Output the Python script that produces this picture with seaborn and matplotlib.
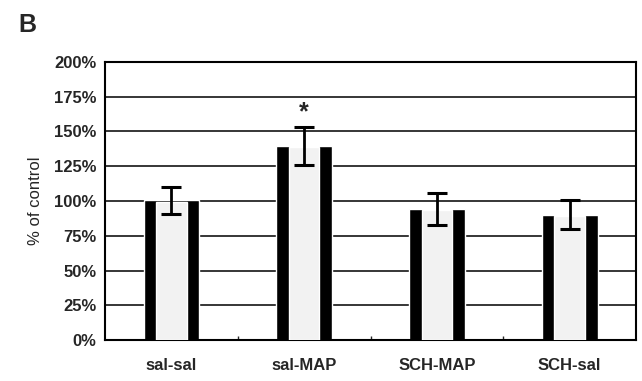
import numpy as np
import pandas as pd
import matplotlib.pyplot as plt
import seaborn as sns
from matplotlib.ticker import PercentFormatter, FixedLocator

groups = ['sal-sal', 'sal-MAP', 'SCH-MAP', 'SCH-sal']
means = [100.5, 139.5, 94.5, 90]
errs = [9.5, 13.5, 11.5, 10.5]
stars = ['', '*', '', '']

df = pd.DataFrame({'group': groups, 'pct': means})

sns.set_style('white')
plt.rcParams['font.family'] = ['Liberation Sans', 'DejaVu Sans']

fig = plt.figure(figsize=(6.42, 3.81), dpi=100)
ax = fig.add_axes([0.1636, 0.1076, 0.8271, 0.7297])

# outer black bar, then lighter inner bar on top
sns.barplot(data=df, x='group', y='pct', color='black', width=0.42,
            saturation=1, ax=ax, zorder=2)
sns.barplot(data=df, x='group', y='pct', color='#f2f2f2', width=0.23,
            saturation=1, ax=ax, zorder=3)
# trim inner bars slightly below the top so a thin black edge shows
for p in ax.patches[len(groups):]:
    p.set_height(p.get_height() - 1.0)

x = np.arange(len(groups))
ax.errorbar(x, means, yerr=errs, fmt='none', ecolor='black', elinewidth=2,
            capsize=7, capthick=2.2, zorder=4)
for xi, m, e, s in zip(x, means, errs, stars):
    if s:
        ax.text(xi, m + e + 2, s, ha='center', va='bottom', fontsize=18,
                fontweight='bold')

ax.set_ylim(0, 200)
ax.set_xlim(-0.5, len(groups) - 0.5)
ax.set_yticks(np.arange(0, 201, 25))
ax.yaxis.set_major_formatter(PercentFormatter(decimals=0))
ax.grid(axis='y', color='black', linewidth=1.1, zorder=0)
ax.set_axisbelow(True)
ax.xaxis.set_minor_locator(FixedLocator([0.5, 1.5, 2.5]))
ax.tick_params(axis='x', which='minor', direction='in', length=3, width=1, bottom=True)
ax.tick_params(axis='x', which='major', length=0, pad=13)
ax.tick_params(axis='y', length=0, pad=6)
for side in ax.spines.values():
    side.set_color('black')
    side.set_linewidth(1.5)

ax.set_xlabel('')
ax.set_ylabel('% of control', fontsize=12, labelpad=8)
for lab in ax.get_xticklabels() + ax.get_yticklabels():
    lab.set_fontsize(12)
    lab.set_fontweight('bold')

fig.text(0.028, 0.915, 'B', fontsize=18, fontweight='bold')

plt.savefig('out.png', dpi=100)
